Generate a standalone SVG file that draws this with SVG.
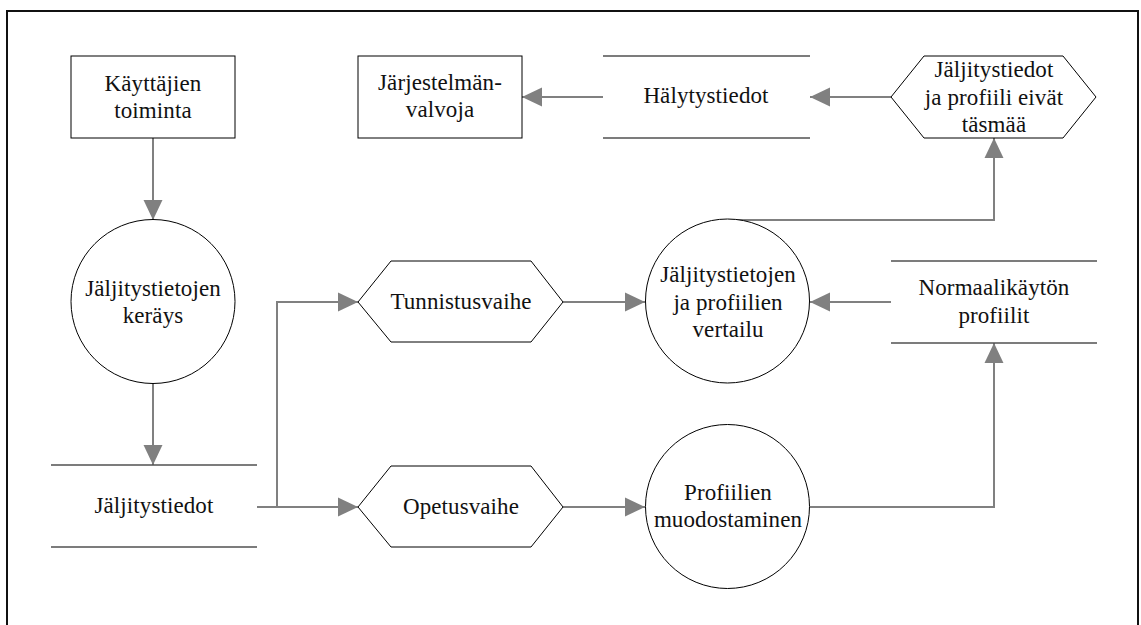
<svg xmlns="http://www.w3.org/2000/svg" width="1141" height="625" viewBox="0 0 1141 625">
  <style>
    .box { fill: #fff; stroke: #000; stroke-width: 1; }
    .store { fill: none; stroke: #505050; stroke-width: 1.6; }
    .conn { fill: none; stroke: #808080; stroke-width: 2; }
    .lbl { font-family: "Liberation Serif", "Times New Roman", serif; font-size: 23px; letter-spacing: 0.1px; fill: #111; text-anchor: middle; }
  </style>
  <defs>
    <marker id="arrow" markerUnits="userSpaceOnUse" markerWidth="20" markerHeight="20" viewBox="0 0 19 18" refX="19" refY="9" orient="auto">
      <path d="M0,0 L19,9 L0,18 Z" fill="#808080"/>
    </marker>
  </defs>

  <rect width="1141" height="625" fill="#fff"/>
  <!-- outer frame -->
  <rect x="7" y="11" width="1131" height="630" fill="none" stroke="#111" stroke-width="2"/>

  <!-- connectors -->
  <g id="connectors">
    <line class="conn" x1="153" y1="138" x2="153" y2="220" marker-end="url(#arrow)"/>
    <line class="conn" x1="153" y1="383" x2="153" y2="465" marker-end="url(#arrow)"/>
    <line class="conn" x1="257" y1="507" x2="358" y2="507" marker-end="url(#arrow)"/>
    <polyline class="conn" points="277,507 277,302 358,302" marker-end="url(#arrow)"/>
    <line class="conn" x1="563" y1="302" x2="645" y2="302" marker-end="url(#arrow)"/>
    <line class="conn" x1="563" y1="507" x2="645" y2="507" marker-end="url(#arrow)"/>
    <line class="conn" x1="891" y1="302" x2="810" y2="302" marker-end="url(#arrow)"/>
    <polyline class="conn" points="810,507 994,507 994,343" marker-end="url(#arrow)"/>
    <polyline class="conn" points="727,220 994,220 994,138" marker-end="url(#arrow)"/>
    <line class="conn" x1="891" y1="97" x2="810" y2="97" marker-end="url(#arrow)"/>
    <line class="conn" x1="603" y1="97" x2="522" y2="97" marker-end="url(#arrow)"/>
  </g>

  <!-- external entities -->
  <g id="kayttajien-toiminta">
    <rect class="box" x="71" y="56" width="164" height="82"/>
    <text class="lbl" x="153" y="91">Käyttäjien</text>
    <text class="lbl" x="153" y="118">toiminta</text>
  </g>
  <g id="jarjestelmanvalvoja">
    <rect class="box" x="358" y="56" width="164" height="82"/>
    <text class="lbl" x="440" y="90">Järjestelmän-</text>
    <text class="lbl" x="440" y="117">valvoja</text>
  </g>

  <!-- data stores -->
  <g id="halytystiedot">
    <line class="store" x1="603" y1="56" x2="810" y2="56"/>
    <line class="store" x1="603" y1="138" x2="810" y2="138"/>
    <text class="lbl" x="706" y="103">Hälytystiedot</text>
  </g>
  <g id="normaalikayton-profiilit">
    <line class="store" x1="891" y1="261" x2="1097" y2="261"/>
    <line class="store" x1="891" y1="343" x2="1097" y2="343"/>
    <text class="lbl" x="994" y="295">Normaalikäytön</text>
    <text class="lbl" x="994" y="323">profiilit</text>
  </g>
  <g id="jaljitystiedot">
    <line class="store" x1="51" y1="465" x2="257" y2="465"/>
    <line class="store" x1="51" y1="547" x2="257" y2="547"/>
    <text class="lbl" x="154" y="513">Jäljitystiedot</text>
  </g>

  <!-- decisions / phases -->
  <g id="ei-tasmaa">
    <polygon class="box" points="891,97 924,56 1063,56 1096,97 1063,138 924,138"/>
    <text class="lbl" x="994" y="77">Jäljitystiedot</text>
    <text class="lbl" x="994" y="105">ja profiili eivät</text>
    <text class="lbl" x="994" y="132">täsmää</text>
  </g>
  <g id="tunnistusvaihe">
    <polygon class="box" points="358,302 391,261 531,261 563,302 531,342 391,342"/>
    <text class="lbl" x="461" y="309">Tunnistusvaihe</text>
  </g>
  <g id="opetusvaihe">
    <polygon class="box" points="358,507 391,466 531,466 563,507 531,547 391,547"/>
    <text class="lbl" x="461" y="514">Opetusvaihe</text>
  </g>

  <!-- processes -->
  <g id="kerays">
    <circle class="box" cx="153" cy="301.5" r="82"/>
    <text class="lbl" x="153" y="296">Jäljitystietojen</text>
    <text class="lbl" x="153" y="323">keräys</text>
  </g>
  <g id="vertailu">
    <circle class="box" cx="727.5" cy="301" r="82"/>
    <text class="lbl" x="728" y="282">Jäljitystietojen</text>
    <text class="lbl" x="728" y="310">ja profiilien</text>
    <text class="lbl" x="728" y="337">vertailu</text>
  </g>
  <g id="muodostaminen">
    <circle class="box" cx="727.5" cy="506.5" r="82"/>
    <text class="lbl" x="728" y="500">Profiilien</text>
    <text class="lbl" x="728" y="527">muodostaminen</text>
  </g>
</svg>
